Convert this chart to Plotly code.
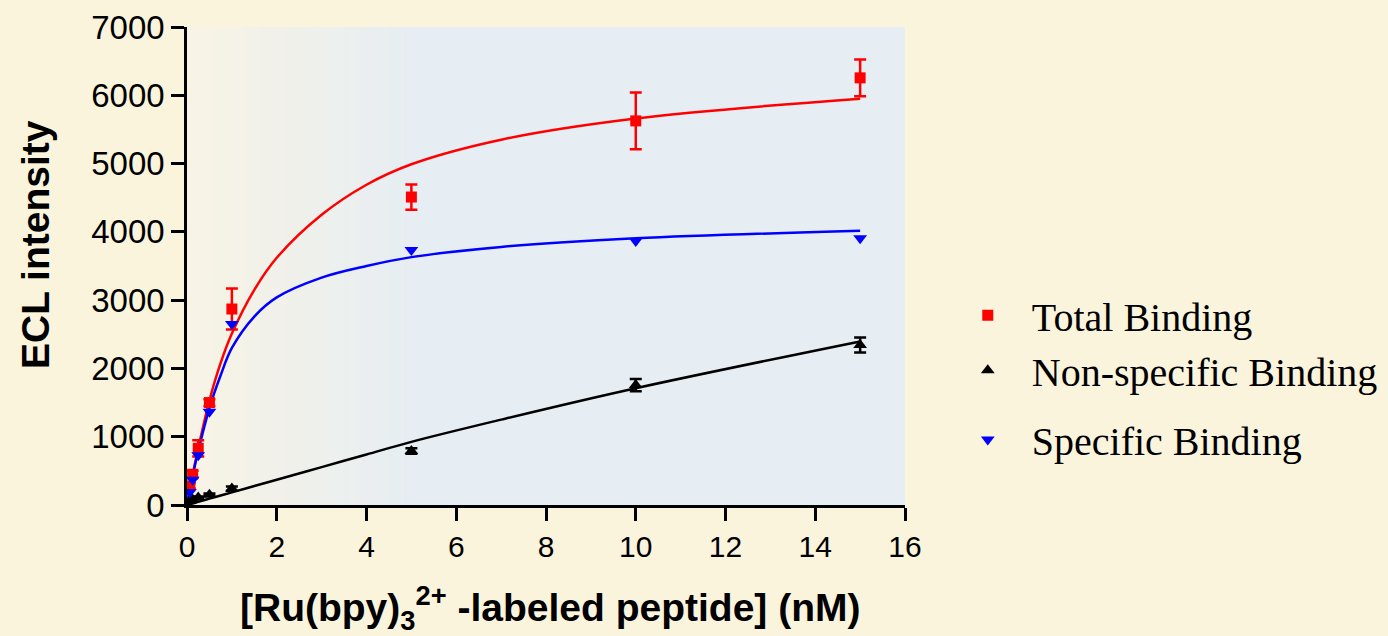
import plotly.graph_objects as go

# ---- data ----
conc = [0.0625, 0.125, 0.25, 0.5, 1, 5, 10, 15]
total = [280, 450, 830, 1500, 2870, 4510, 5625, 6255]
total_err = [40, 50, 120, 50, 300, 185, 415, 270]
nonspec = [60, 80, 110, 150, 240, 790, 1757, 2343]
nonspec_err = [10, 10, 15, 20, 30, 40, 90, 110]
specific = [190, 370, 730, 1365, 2650, 3735, 3865, 3905]

# fitted curves
fit_x = [0, 0.125, 0.25, 0.5, 0.75, 1, 1.5, 2, 3, 4, 5, 7, 10, 15]
fit_total = [0, 440, 830, 1530, 2080, 2510, 3150, 3620, 4250, 4690, 4990, 5350, 5660, 5950]
fit_specific = [0, 420, 790, 1420, 1900, 2300, 2760, 3040, 3330, 3500, 3630, 3780, 3905, 4016]
fit_nonspec = [0, 23, 46, 93, 139, 185, 278, 370, 555, 740, 925, 1250, 1710, 2395]

x_ticks = [0, 2, 4, 6, 8, 10, 12, 14, 16]
y_ticks = [0, 1000, 2000, 3000, 4000, 5000, 6000, 7000]

RED = "#FF0000"
BLUE = "#0000FF"
BLACK = "#000000"

fig = go.Figure()

for fy, col in [(fit_total, RED), (fit_specific, BLUE), (fit_nonspec, BLACK)]:
    fig.add_trace(go.Scatter(x=fit_x, y=fy, mode="lines",
                             line=dict(color=col, width=2.5, shape="spline", smoothing=1),
                             showlegend=False, hoverinfo="skip"))

fig.add_trace(go.Scatter(
    x=conc, y=total, mode="markers", name="Total Binding",
    marker=dict(symbol="square", size=11, color=RED),
    error_y=dict(type="data", array=total_err, color=RED, thickness=2.5, width=6),
    legend="legend"))
fig.add_trace(go.Scatter(
    x=conc, y=nonspec, mode="markers", name="Non-specific Binding",
    marker=dict(symbol="triangle-up", size=12, color=BLACK),
    error_y=dict(type="data", array=nonspec_err, color=BLACK, thickness=2.5, width=6),
    legend="legend2"))
fig.add_trace(go.Scatter(
    x=conc, y=specific, mode="markers", name="Specific Binding",
    marker=dict(symbol="triangle-down", size=12, color=BLUE),
    legend="legend3"))

legend_font = dict(family="Liberation Serif, Times New Roman, serif", size=40, color="black")
leg_common = dict(font=legend_font, bgcolor="rgba(0,0,0,0)", xanchor="left",
                  yanchor="middle", itemwidth=78, x=1.054)

# soft background wash (decoration only)
shapes = []
n_strips = 14
for i in range(n_strips):
    shapes.append(dict(type="rect", xref="paper", yref="paper",
                       x0=0.04 + i * 0.02, x1=0.06 + i * 0.02, y0=0, y1=1,
                       fillcolor="#E3ECF4", opacity=0.9 * (i + 1) / (n_strips + 1),
                       line=dict(width=0), layer="below"))
shapes.append(dict(type="rect", xref="paper", yref="paper", x0=0.04 + n_strips * 0.02,
                   x1=1.0, y0=0, y1=1, fillcolor="#E3ECF4", opacity=0.9,
                   line=dict(width=0), layer="below"))

fig.update_layout(
    width=1388, height=636,
    margin=dict(l=187, r=483, t=27, b=131, autoexpand=False),
    paper_bgcolor="#FBF4DD",
    plot_bgcolor="#F7F3E6",
    legend=dict(**leg_common, y=0.397),
    legend2=dict(**leg_common, y=0.282),
    legend3=dict(**leg_common, y=0.137),
    shapes=shapes,
    annotations=[
        dict(text="ECL intensity", xref="paper", yref="paper", x=-0.2117, y=0.546,
             textangle=-90, showarrow=False, xanchor="center", yanchor="middle",
             font=dict(family="Liberation Sans, Arial, sans-serif", size=39, color="black",
                       weight="bold")),
        dict(text="[Ru(bpy)<sub>3</sub><sup>2+</sup> -labeled peptide] (nM)",
             xref="paper", yref="paper", x=0.5056, y=-0.215, showarrow=False,
             xanchor="center", yanchor="middle",
             font=dict(family="Liberation Sans, Arial, sans-serif", size=39, color="black",
                       weight="bold")),
    ],
)

fig.update_xaxes(range=[0, 16], tickvals=x_ticks, ticktext=[str(v) for v in x_ticks],
                 showgrid=False, zeroline=False, showline=True, linecolor="black",
                 linewidth=2.5, ticks="outside", ticklen=13, tickwidth=2.5, tickcolor="black",
                 tickfont=dict(family="Liberation Sans, Arial, sans-serif", size=30,
                               color="black"))
fig.update_yaxes(range=[0, 7000], tickvals=y_ticks, ticktext=[str(v) for v in y_ticks],
                 showgrid=False, zeroline=False, showline=True, linecolor="black",
                 linewidth=2.5, ticks="outside", ticklen=13, tickwidth=2.5, tickcolor="black",
                 tickfont=dict(family="Liberation Sans, Arial, sans-serif", size=33,
                               color="black"))

fig.write_html("out.html",
               config={"displayModeBar": False},
               post_script="document.body.style.margin='0';"
                           "document.body.style.background='#FBF4DD';")
